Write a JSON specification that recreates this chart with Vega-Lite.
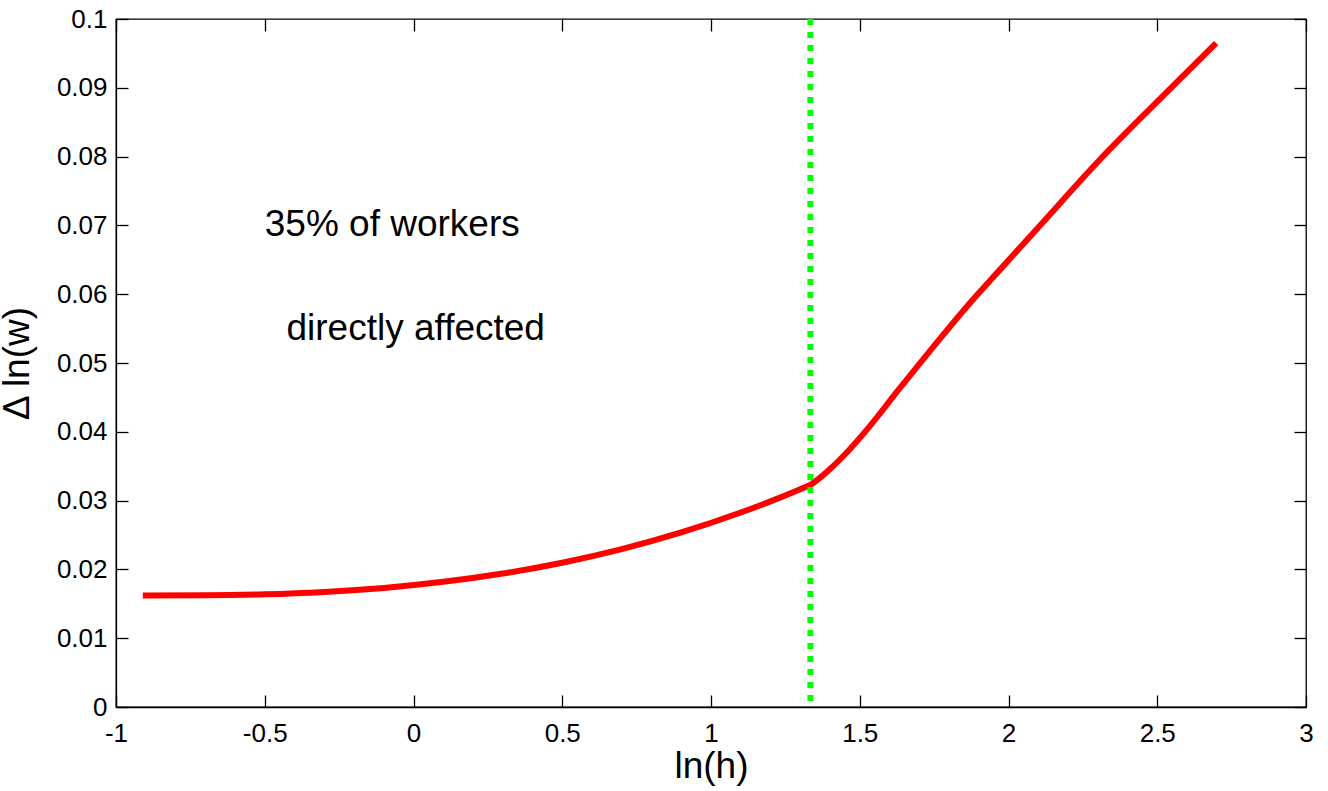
{
  "$schema": "https://vega.github.io/schema/vega-lite/v6.json",
  "autosize": "none",
  "width": 1190,
  "height": 688,
  "padding": {"left": 116, "top": 19, "right": 22, "bottom": 84},
  "background": "white",
  "config": {
    "font": "Liberation Sans",
    "view": {"stroke": "black", "strokeWidth": 1.3},
    "axis": {
      "grid": false,
      "domainColor": "black",
      "domainWidth": 1.3,
      "tickColor": "black",
      "tickWidth": 1.3,
      "tickSize": -12,
      "labelFont": "Liberation Sans",
      "labelFontSize": 26,
      "labelColor": "black",
      "titleFont": "Liberation Sans",
      "titleFontSize": 37,
      "titleFontWeight": "normal",
      "titleColor": "black"
    }
  },
  "datasets": {
    "curve": [
      {"lnh": -0.91, "dlnw": 0.0162},
      {"lnh": -0.7, "dlnw": 0.01623},
      {"lnh": -0.5, "dlnw": 0.01638},
      {"lnh": -0.3, "dlnw": 0.01673},
      {"lnh": -0.1, "dlnw": 0.01731},
      {"lnh": 0.1, "dlnw": 0.01819},
      {"lnh": 0.3, "dlnw": 0.0194},
      {"lnh": 0.5, "dlnw": 0.02097},
      {"lnh": 0.7, "dlnw": 0.02295},
      {"lnh": 0.9, "dlnw": 0.02537},
      {"lnh": 1.1, "dlnw": 0.02827},
      {"lnh": 1.2, "dlnw": 0.02989},
      {"lnh": 1.3, "dlnw": 0.03166},
      {"lnh": 1.334, "dlnw": 0.0323},
      {"lnh": 1.408, "dlnw": 0.0349},
      {"lnh": 1.45, "dlnw": 0.0367},
      {"lnh": 1.52, "dlnw": 0.0401},
      {"lnh": 1.634, "dlnw": 0.0463},
      {"lnh": 1.75, "dlnw": 0.0525},
      {"lnh": 1.88, "dlnw": 0.0592},
      {"lnh": 1.97, "dlnw": 0.0635},
      {"lnh": 2.1, "dlnw": 0.0697},
      {"lnh": 2.306, "dlnw": 0.0795},
      {"lnh": 2.5, "dlnw": 0.0880},
      {"lnh": 2.698, "dlnw": 0.0965}
    ],
    "cutoff": [{"lnh": 1.334}],
    "notes": [
      {"lnh": -0.5, "dlnw": 0.07, "label": "35% of workers"},
      {"lnh": -0.427, "dlnw": 0.055, "label": "directly affected"}
    ]
  },
  "layer": [
    {
      "data": {"name": "curve"},
      "mark": {"type": "line", "color": "#ff0000", "strokeWidth": 6, "interpolate": "monotone", "clip": true},
      "encoding": {
        "x": {
          "field": "lnh", "type": "quantitative",
          "scale": {"domain": [-1, 3], "nice": false, "zero": false},
          "axis": {"orient": "bottom", "title": "ln(h)", "values": [-1, -0.5, 0, 0.5, 1, 1.5, 2, 2.5, 3], "labelExpr": "datum.value + ''", "labelPadding": 25, "titleY": 70, "titleBaseline": "alphabetic", "labelFlush": false}
        },
        "y": {
          "field": "dlnw", "type": "quantitative",
          "scale": {"domain": [0, 0.1], "nice": false, "zero": false},
          "axis": {"orient": "left", "title": "Δ ln(w)", "values": [0, 0.01, 0.02, 0.03, 0.04, 0.05, 0.06, 0.07, 0.08, 0.09, 0.1], "labelExpr": "datum.value + ''", "labelPadding": 21, "titleX": -80, "labelFlush": false}
        }
      }
    },
    {
      "data": {"name": "cutoff"},
      "mark": {"type": "rule", "color": "#00ff00", "strokeWidth": 6, "strokeDash": [6, 7], "strokeCap": "butt"},
      "encoding": {
        "x": {"field": "lnh", "type": "quantitative", "axis": null}
      }
    },
    {
      "data": {"name": "notes"},
      "mark": {"type": "text", "align": "left", "baseline": "middle", "fontSize": 37, "font": "Liberation Sans", "color": "black"},
      "encoding": {
        "x": {
          "field": "lnh", "type": "quantitative",
          "axis": {"orient": "top", "title": null, "labels": false, "domain": false, "values": [-1, -0.5, 0, 0.5, 1, 1.5, 2, 2.5, 3]}
        },
        "y": {
          "field": "dlnw", "type": "quantitative",
          "axis": {"orient": "right", "title": null, "labels": false, "domain": false, "values": [0, 0.01, 0.02, 0.03, 0.04, 0.05, 0.06, 0.07, 0.08, 0.09, 0.1]}
        },
        "text": {"field": "label"}
      }
    }
  ],
  "resolve": {"axis": {"x": "independent", "y": "independent"}}
}
